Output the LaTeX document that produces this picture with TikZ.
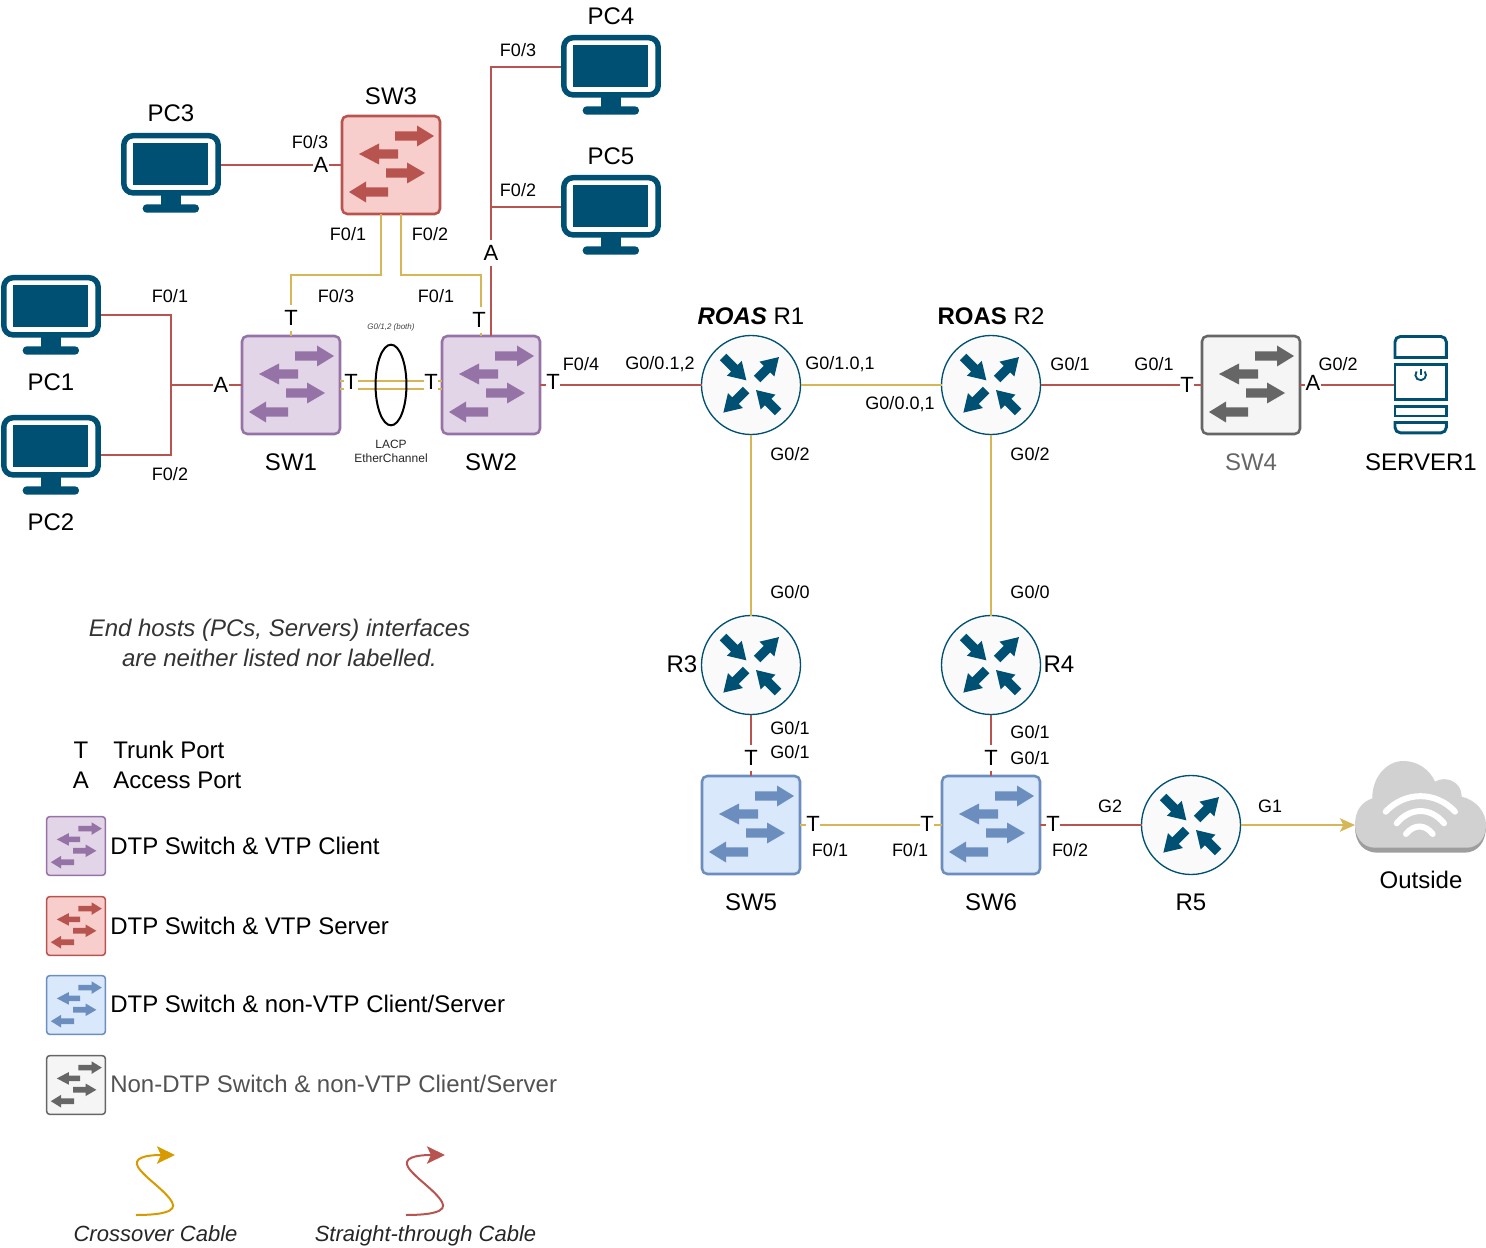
\documentclass[tikz,border=0pt]{standalone}
\usepackage{fontspec}
\setmainfont{Liberation Sans}
\usetikzlibrary{arrows.meta,shapes.geometric}
\definecolor{dkblue}{HTML}{005073}
\definecolor{redc}{HTML}{B85450}
\definecolor{yelc}{HTML}{D6B656}
\definecolor{orgc}{HTML}{D79B00}
\definecolor{purF}{HTML}{E1D5E7}\definecolor{purD}{HTML}{9673A6}
\definecolor{redF}{HTML}{F8CECC}\definecolor{redD}{HTML}{B85450}
\definecolor{bluF}{HTML}{DAE8FC}\definecolor{bluD}{HTML}{6C8EBF}
\definecolor{gryF}{HTML}{F5F5F5}\definecolor{gryD}{HTML}{666666}
\tikzset{
  x=0.75pt,y=-0.75pt,
  big/.style={font=\fontsize{18}{21}\selectfont,inner sep=0pt,align=center,yshift=-0.75pt},
  small/.style={font=\fontsize{13.5}{16}\selectfont,inner sep=0pt,yshift=-0.75pt},
  tiny/.style={font=\fontsize{9}{10.5}\selectfont,inner sep=0pt,align=center,text=black!85},
  legendtext/.style={big,anchor=west},
  port/.style={font=\fontsize{16.5}{19}\selectfont,fill=white,inner xsep=0.2pt,inner ysep=0pt,minimum height=19pt},
  redline/.style={draw=redc,line width=1.6pt},
  yelline/.style={draw=yelc,line width=1.6pt},
  anchorbox/.style={inner sep=0pt,outer sep=0pt,minimum width=#1},
  anchorbox/.default=100pt,
  switchbox/.style={draw,inner sep=0pt,outer sep=0pt},
  routerbox/.style={circle,draw=dkblue,fill=black!2,line width=1pt,inner sep=0pt,outer sep=0pt,minimum size=74.25pt},
}
% name, cx, cy, scale, colour base
\newcommand{\swarr}[4]{% y, start, base, tip
  (#2,#1-4.7) -- (#3,#1-4.7) -- (#3,#1-10.5) -- (#4,#1) -- (#3,#1+10.5) -- (#3,#1+4.7) -- (#2,#1+4.7) -- cycle}
\newcommand{\switchicon}[5]{%
  \node[switchbox,draw=#5D,fill=#5F,minimum size=#4*73.5pt,line width=#4*1.9pt,rounded corners=#4*4pt] (#1) at (#2,#3) {};
  \begin{scope}[shift={(#2,#3)},scale=#4]
    \fill[#5D] \swarr{-29}{4}{26}{43};
    \fill[#5D] \swarr{-11}{7}{-12}{-32};
    \fill[#5D] \swarr{8}{-5}{16}{34};
    \fill[#5D] \swarr{27}{-3}{-25}{-42};
  \end{scope}}
\newcommand{\rarrow}[4]{% sx sy rot len
  \begin{scope}[shift={(#1,#2)},rotate=#3]
    \fill[dkblue] (0,-4.6) -- (#4-17,-4.6) -- (#4-17,-10.5) -- (#4,0) -- (#4-17,10.5) -- (#4-17,4.6) -- (0,4.6) -- cycle;
  \end{scope}}
\newcommand{\routericon}[3]{%
  \node[routerbox] (#1) at (#2,#3) {};
  \begin{scope}[shift={(#2,#3)}]
    \rarrow{-28}{-28}{-45}{33}
    \rarrow{6}{-6}{45}{31}
    \rarrow{-5}{5}{225}{32}
    \rarrow{27}{27}{135}{31}
  \end{scope}}
% name cx top connector-y
\newcommand{\pcicon}[4]{%
  \node[anchorbox=75pt,minimum height=60pt] (#1) at (#2,#4) {};
  \begin{scope}[shift={(#2,#3)}]
    \fill[dkblue] (-9.7,78) rectangle (9.7,61);
    \fill[dkblue,rounded corners=3pt] (-28.3,71.3) rectangle (28,79.7);
    \draw[dkblue,line width=4.1pt,rounded corners=7pt] (-47.2,2.7) rectangle (47.2,59.9);
    \fill[dkblue] (-38.3,9.7) rectangle (37.3,52);
  \end{scope}}
\begin{document}
\begin{tikzpicture}
\useasboundingbox (0,0) rectangle (1486,1248);

% devices
\pcicon{pcthree}{171}{133}{165}
\pcicon{pcfour}{611}{35}{67}
\pcicon{pcfive}{611}{175}{207}
\pcicon{pcone}{51}{275}{315}
\pcicon{pctwo}{51}{415}{455}

\switchicon{swone}{291}{385}{1}{pur}
\switchicon{swtwo}{491}{385}{1}{pur}
\switchicon{swthree}{391}{165}{1}{red}
\switchicon{swfour}{1251}{385}{1}{gry}
\switchicon{swfive}{751}{825}{1}{blu}
\switchicon{swsix}{991}{825}{1}{blu}

\routericon{rone}{751}{385}
\routericon{rtwo}{991}{385}
\routericon{rthree}{751}{665}
\routericon{rfour}{991}{665}
\routericon{rfive}{1191}{825}

% server
\node[anchorbox=40.5pt,minimum height=74pt] (server) at (1420.5,385) {};
\begin{scope}[dkblue,line width=2.2pt]
  \draw (1395,357.5) [rounded corners=4pt] -- (1395,336.5) -- (1446.3,336.5) [sharp corners] -- (1446.3,357.5) -- cycle;
  \draw (1395,364.2) rectangle (1446.3,399.5);
  \draw (1395,406.5) rectangle (1446.3,416);
  \draw (1395,422.5) [rounded corners=4pt] -- (1395,432.8) -- (1446.3,432.8) [sharp corners] -- (1446.3,422.5) -- cycle;
  \draw[line width=1.4pt] (1416.6,371.5) arc[start angle=-140,end angle=-400,radius=5.3];
  \draw[line width=1.4pt] (1420.7,369) -- (1420.7,375);
\end{scope}

% cloud
\node[anchorbox=98.25pt,minimum height=60pt] (cloud) at (1420.5,825) {};
\fill[black!38] (1355,826) .. controls (1355,845) and (1365,852.7) .. (1378,852.7) -- (1464,852.7) .. controls (1478,852.7) and (1486,842) .. (1486,826) -- cycle;
\fill[black!18] (1375,847.7) .. controls (1362,847.7) and (1355,836) .. (1355,825)
  .. controls (1355,810) and (1362,802) .. (1372.3,798.3)
  .. controls (1372,778) and (1386,761) .. (1403.3,761)
  .. controls (1418,761) and (1430,770) .. (1435,781.7)
  .. controls (1446,775) and (1462,782) .. (1461.7,796.7)
  .. controls (1476,800) and (1486,812) .. (1486,825)
  .. controls (1486,838) and (1478,847.7) .. (1466.7,847.7) -- cycle;
\begin{scope}[white,line width=4.5pt,line cap=round]
  \draw (1385.7,811.7) .. controls (1405,791) and (1436,791) .. (1455,811.7);
  \draw (1396.7,823.3) .. controls (1410,807) and (1431,807) .. (1444,823.3);
  \draw (1406,834) .. controls (1414,824) and (1425,824) .. (1432.7,834);
\end{scope}

% connectors
\coordinate (hub) at (171,385);
\coordinate (hubtop) at (491,207);
\coordinate (crossa) at (136,1215);
\coordinate (crossb) at (175,1155);
\coordinate (straighta) at (406,1215);
\coordinate (straightb) at (445,1155);
\draw[redline] (pcone.east) -| (hub);
\draw[redline] (pctwo.east) -| (hub);
\draw[redline] (hub) -- (swone.west);
\draw[redline] (pcthree.east) -- (swthree.west);
\draw[yelline] ([xshift=-7.5pt]swthree.south) |- (291,275) -- (swone.north);
\draw[yelline] ([xshift=7.5pt]swthree.south) |- (481,275) -- ([xshift=-7.5pt]swtwo.north);
\draw[redline] (swtwo.north) |- (pcfour.west);
\draw[redline] (hubtop) -- (pcfive.west);
\draw[yelline] ([yshift=3pt]swone.east) -- ([yshift=3pt]swtwo.west);
\draw[yelline] ([yshift=-3pt]swone.east) -- ([yshift=-3pt]swtwo.west);
\draw[redline] (swtwo.east) -- (rone.west);
\draw[yelline] (rone.east) -- (rtwo.west);
\draw[redline] (rtwo.east) -- (swfour.west);
\draw[redline] (swfour.east) -- (server.west);
\draw[yelline] (rone.south) -- (rthree.north);
\draw[yelline] (rtwo.south) -- (rfour.north);
\draw[redline] (rthree.south) -- (swfive.north);
\draw[redline] (rfour.south) -- (swsix.north);
\draw[yelline] (swfive.east) -- (swsix.west);
\draw[redline] (swsix.east) -- (rfive.west);
\draw[yelline,-{Stealth[length=11.25pt,width=10pt,inset=2.5pt]}] (rfive.east) -- (cloud.west);

% port letters
\node[port] (p1) at (221,385) {A};
\node[port] (p2) at (321,165) {A};
\node[port] (p3) at (291,318) {T};
\node[port] (p4) at (479,320) {T};
\node[port] (p5) at (351,382) {T};
\node[port] (p6) at (431,382) {T};
\node[port] (p7) at (491,253) {A};
\node[port] (p8) at (553,382) {T};
\node[port] (p9) at (1187,385) {T};
\node[port] (p10) at (1313,383) {A};
\node[port] (p11) at (751,758) {T};
\node[port] (p12) at (991,758) {T};
\node[port] (p13) at (813,824) {T};
\node[port] (p14) at (927,824) {T};
\node[port] (p15) at (1053,824) {T};

% etherchannel ellipse
\node[ellipse,draw=black,line width=1.5pt,inner sep=0pt,minimum width=23.2pt,minimum height=60.5pt] (lacp) at (391,385) {};

% device names
\node[big] (l1) at (171,112) {PC3};
\node[big] (l2) at (391,95) {SW3};
\node[big] (l3) at (611,15) {PC4};
\node[big] (l4) at (611,155) {PC5};
\node[big] (l5) at (51,381) {PC1};
\node[big] (l6) at (51,521) {PC2};
\node[big] (l7) at (291,461) {SW1};
\node[big] (l8) at (491,461) {SW2};
\node[big] (l9) at (751,315) {\textbf{\textit{ROAS}} R1};
\node[big] (l10) at (991,315) {\textbf{ROAS} R2};
\node[big,text=gryD] (l11) at (1251,461) {SW4};
\node[big] (l12) at (1421,461) {SERVER1};
\node[big] (l13) at (682,663) {R3};
\node[big] (l14) at (1059,663) {R4};
\node[big] (l15) at (751,901) {SW5};
\node[big] (l16) at (991,901) {SW6};
\node[big] (l17) at (1191,901) {R5};
\node[big] (l18) at (1421,879) {Outside};

% interface labels
\node[small] (i1) at (310,141) {F0/3};
\node[small] (i2) at (518,49) {F0/3};
\node[small] (i3) at (518,189) {F0/2};
\node[small] (i4) at (348,233) {F0/1};
\node[small] (i5) at (430,233) {F0/2};
\node[small] (i6) at (336,295) {F0/3};
\node[small] (i7) at (436,295) {F0/1};
\node[small] (i8) at (170,295) {F0/1};
\node[small] (i9) at (170,473) {F0/2};
\node[small] (i10) at (581,363) {F0/4};
\node[small] (i11) at (660,363) {G0/0.1,2};
\node[small] (i12) at (840,363) {G0/1.0,1};
\node[small] (i13) at (900,403) {G0/0.0,1};
\node[small] (i14) at (1070,363) {G0/1};
\node[small] (i15) at (1154,363) {G0/1};
\node[small] (i16) at (1338,363) {G0/2};
\node[small] (i17) at (790,453) {G0/2};
\node[small] (i18) at (1030,453) {G0/2};
\node[small] (i19) at (790,591) {G0/0};
\node[small] (i20) at (1030,591) {G0/0};
\node[small] (i21) at (790,727) {G0/1};
\node[small] (i22) at (790,751) {G0/1};
\node[small] (i23) at (1030,731) {G0/1};
\node[small] (i24) at (1030,757) {G0/1};
\node[small] (i25) at (830,849) {F0/1};
\node[small] (i26) at (910,849) {F0/1};
\node[small] (i27) at (1070,849) {F0/2};
\node[small] (i28) at (1110,805) {G2};
\node[small] (i29) at (1270,805) {G1};

\node[font=\fontsize{6}{7}\selectfont\itshape,inner sep=0pt,text=black!75] (e1) at (391,327) {G0/1,2 (both)};
\node[tiny] (e2) at (391,451) {LACP\\EtherChannel};

% note
\node[font=\fontsize{18}{22.2}\selectfont\itshape,align=center,inner sep=0pt,text=black!80] (note) at (279.5,643) {End hosts (PCs, Servers) interfaces\\are neither listed nor labelled.};

% legend
\node[big] (k1) at (81,749) {T};
\node[big] (k2) at (81,779) {A};
\node[legendtext] (k3) at (113,749) {Trunk Port};
\node[legendtext] (k4) at (113,779) {Access Port};
\switchicon{legone}{76}{846}{0.6}{pur}
\switchicon{legtwo}{76}{926}{0.6}{red}
\switchicon{legthree}{76}{1005}{0.6}{blu}
\switchicon{legfour}{76}{1085}{0.6}{gry}
\node[legendtext] (k5) at (110,845) {DTP Switch \& VTP Client};
\node[legendtext] (k6) at (110,925) {DTP Switch \& VTP Server};
\node[legendtext] (k7) at (110,1003) {DTP Switch \& non-VTP Client/Server};
\node[legendtext,text=gryD!80!black] (k8) at (110,1083) {Non-DTP Switch \& non-VTP Client/Server};

\draw[orgc,line width=1.5pt,-{Stealth[length=13.5pt,width=13pt,inset=3pt]}] (crossa)
  .. controls (160,1215) and (178,1212) .. (172,1202)
  .. controls (165,1190) and (145,1178) .. (138,1167)
  .. controls (133,1158) and (145,1155) .. (crossb);
\draw[redc,line width=1.5pt,-{Stealth[length=13.5pt,width=13pt,inset=3pt]}] (straighta)
  .. controls (430,1215) and (448,1212) .. (442,1202)
  .. controls (435,1190) and (415,1178) .. (408,1167)
  .. controls (403,1158) and (415,1155) .. (straightb);
\node[font=\fontsize{16.5}{20}\selectfont\itshape,inner sep=0pt,text=black!85,anchor=base] (c1) at (155.5,1241) {Crossover Cable};
\node[font=\fontsize{16.5}{20}\selectfont\itshape,inner sep=0pt,text=black!85,anchor=base] (c2) at (425.5,1241) {Straight-through Cable};
\end{tikzpicture}
\end{document}
